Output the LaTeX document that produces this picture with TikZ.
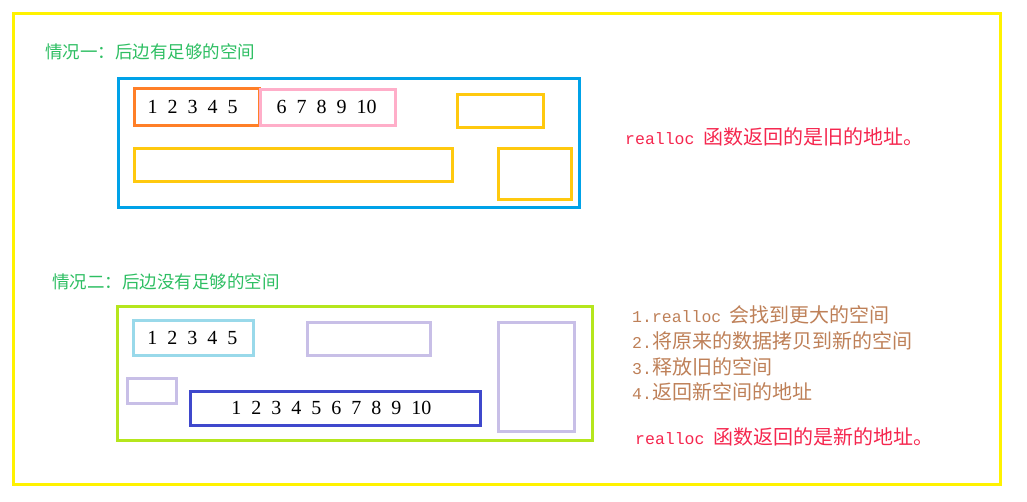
\documentclass[tikz,border=0pt]{standalone}
\usepackage{fontspec}
\setmainfont{Liberation Serif}
\setmonofont{Liberation Mono}
\newfontfamily\cjk{Noto Sans CJK SC}
\usetikzlibrary{fit}
\definecolor{memFrame}{HTML}{FFF200}
\definecolor{memHeapA}{HTML}{00A2E8}
\definecolor{memHeapB}{HTML}{B5E61D}
\definecolor{memOldA}{HTML}{FF7F27}
\definecolor{memGrow}{HTML}{FFAEC9}
\definecolor{memFreeA}{HTML}{FFC90E}
\definecolor{memOldB}{HTML}{99D9EA}
\definecolor{memFreeB}{HTML}{C8BFE7}
\definecolor{memNew}{HTML}{3F48CC}
\definecolor{memTitle}{HTML}{2DBE62}
\definecolor{memNote}{HTML}{F5264E}
\definecolor{memStep}{HTML}{BE8058}
\tikzset{
  membox/.style={draw,line width=3pt,inner sep=0pt},
  memnum/.style={inner sep=0pt,font=\fontsize{20}{24}\selectfont,text=black,
                 execute at begin node={\spaceskip=10pt\relax}},
  memlbl/.style={anchor=west,inner sep=0pt,align=left},
  memtitle/.style={memlbl,text=memTitle,font=\cjk\fontsize{17.5}{20}\selectfont},
  memnote/.style={memlbl,text=memNote,font=\fontsize{20}{22}\selectfont},
  memsteps/.style={memlbl,text=memStep,font=\fontsize{20}{25.7}\selectfont},
}
\newcommand{\memcode}[1]{{\ttfamily\fontsize{16.5}{20}\selectfont #1}}

\begin{document}
\begin{tikzpicture}[x=1pt,y=-1pt]
  \useasboundingbox (0,0) rectangle (1027,501);
  \node[membox,draw=memFrame,fit={(13.5,13.5)(1000,484)}] (frame) {};

  % case one: the block can grow in place
  \node[memtitle] (titleA) at (45,52) {情况一：后边有足够的空间};
  \node[membox,draw=memHeapA,fit={(118.5,78.5)(579,207.5)}] (heapA) {};
  \node[membox,draw=memOldA,fit={(134,88.5)(259,125)}] (oldA) {};
  \node[membox,draw=memGrow,fit={(260,89)(395,125)}] (growA) {};
  \node[memnum,xshift=-4pt] (oldAnum) at (oldA.center) {1 2 3 4 5};
  \node[memnum,xshift=-1pt] (growAnum) at (growA.center) {6 7 8 9 10};
  \node[membox,draw=memFreeA,fit={(457,94.5)(543,127)}] (freeA1) {};
  \node[membox,draw=memFreeA,fit={(134,148.5)(452,181)}] (freeA2) {};
  \node[membox,draw=memFreeA,fit={(498,148.5)(571,199)}] (freeA3) {};
  \node[memnote] (noteA) at (625,137) {\memcode{realloc}\hspace{4pt} {\cjk 函数返回的是旧的地址。}};

  % case two: the block has to move
  \node[memtitle] (titleB) at (52,282) {情况二：后边没有足够的空间};
  \node[membox,draw=memHeapB,fit={(117.5,306)(592,440)}] (heapB) {};
  \node[membox,draw=memOldB,fit={(133.5,320.5)(253,355)}] (oldB) {};
  \node[memnum,xshift=-1pt] (oldBnum) at (oldB.center) {1 2 3 4 5};
  \node[membox,draw=memFreeB,fit={(307,322)(430,355)}] (freeB1) {};
  \node[membox,draw=memFreeB,fit={(127,378)(176,403)}] (freeB2) {};
  \node[membox,draw=memNew,fit={(190,391.5)(480.5,425)}] (newB) {};
  \node[memnum,xshift=-4pt] (newBnum) at (newB.center) {1 2 3 4 5 6 7 8 9 10};
  \node[membox,draw=memFreeB,fit={(498,322)(574,431)}] (freeB3) {};
  \node[memsteps] (stepsB) at (632,353.5)
    {\memcode{1.realloc}\hspace{3pt} {\cjk 会找到更大的空间}\\
     \memcode{2.}{\cjk 将原来的数据拷贝到新的空间}\\
     \memcode{3.}{\cjk 释放旧的空间}\\
     \memcode{4.}{\cjk 返回新空间的地址}};
  \node[memnote] (noteB) at (635,437) {\memcode{realloc}\hspace{4pt} {\cjk 函数返回的是新的地址。}};
\end{tikzpicture}
\end{document}
